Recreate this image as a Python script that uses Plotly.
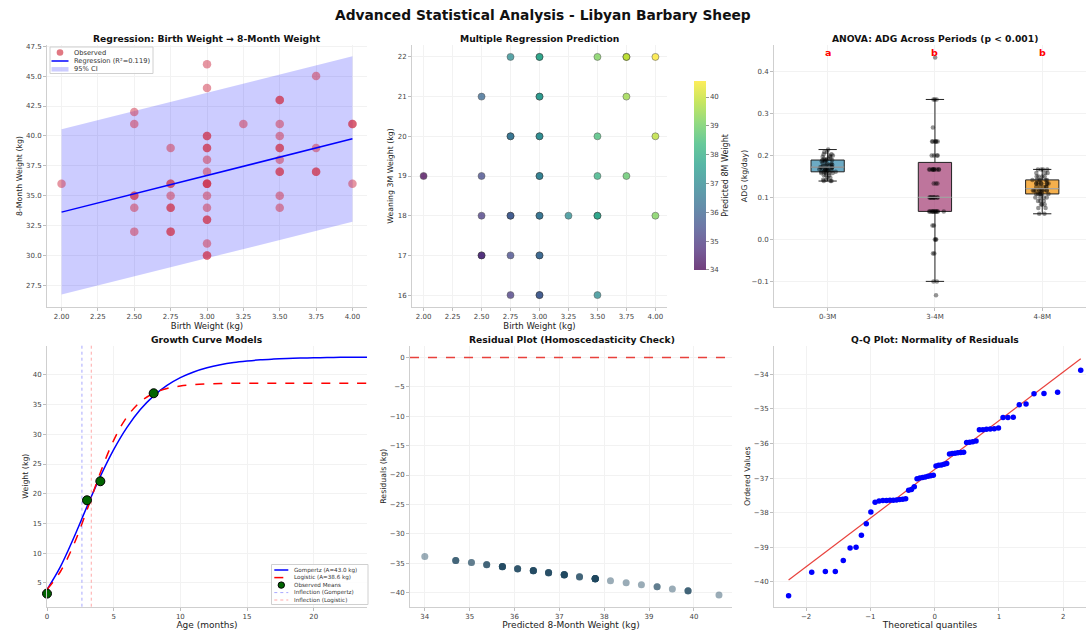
import numpy as np
import plotly.graph_objects as go

# ---------------- data ----------------
# Panel 1: birth weight vs 8-month weight
bw_obs = [2.00,
          2.50, 2.50, 2.50, 2.50, 2.50, 2.50,
          2.75, 2.75, 2.75, 2.75, 2.75, 2.75, 2.75, 2.75,
          3.00, 3.00, 3.00, 3.00, 3.00, 3.00, 3.00, 3.00, 3.00, 3.00, 3.00, 3.00, 3.00, 3.00, 3.00, 3.00, 3.00, 3.00,
          3.25,
          3.50, 3.50, 3.50, 3.50, 3.50, 3.50, 3.50, 3.50, 3.50, 3.50, 3.50,
          3.75, 3.75, 3.75, 3.75,
          4.00, 4.00, 4.00]
w8_obs = [36,
          42, 41, 35, 35, 34, 32,
          39, 36, 36, 35, 34, 34, 32, 32,
          46, 44, 40, 40, 39, 39, 38, 37, 36, 36, 36, 35, 34, 33, 33, 31, 30, 30,
          41,
          43, 43, 41, 40, 39, 39, 38, 37, 37, 35, 34,
          45, 39, 37, 37,
          41, 41, 36]
reg_x = [2.0, 4.0]
reg_y = [33.63, 39.76]
ci_lower = [26.75, 32.82]
ci_upper = [40.55, 46.65]
r_squared = 0.119

# Panel 2: multiple regression prediction
mr_bw = [2.75, 3.00, 3.00, 3.50, 3.75, 3.75, 4.00,
         2.50, 3.00, 3.00, 3.75,
         2.75, 2.75, 3.00, 3.00, 3.50, 4.00,
         2.00, 2.50, 3.00, 3.00, 3.50, 3.75,
         2.50, 2.75, 2.75, 3.00, 3.00, 3.25, 3.50, 3.50, 4.00,
         2.50, 2.50, 2.75, 3.00, 3.00,
         2.75, 3.00, 3.00, 3.50]
mr_w3 = [22, 22, 22, 22, 22, 22, 22,
         21, 21, 21, 21,
         20, 20, 20, 20, 20, 20,
         19, 19, 19, 19, 19, 19,
         18, 18, 18, 18, 18, 18, 18, 18, 18,
         17, 17, 17, 17, 17,
         16, 16, 16, 16]
mr_pred = [37.11, 37.80, 37.80, 39.18, 39.87, 39.87, 40.56,
           36.07, 37.45, 37.45, 39.52,
           36.42, 36.42, 37.11, 37.11, 38.49, 39.87,
           34.00, 35.38, 36.76, 36.76, 38.14, 38.83,
           35.04, 35.73, 35.73, 36.42, 36.42, 37.11, 37.80, 37.80, 39.18,
           34.69, 34.69, 35.38, 36.07, 36.07,
           35.04, 35.73, 35.73, 37.11]

# Panel 3: ADG per period
periods = ["0-3M", "3-4M", "4-8M"]
adg_0_3 = [0.139, 0.139, 0.139, 0.142, 0.142, 0.147, 0.147, 0.153, 0.153, 0.153,
           0.158, 0.158, 0.158, 0.158, 0.161, 0.161, 0.161, 0.161, 0.164, 0.164,
           0.164, 0.164, 0.167, 0.167, 0.167, 0.167, 0.169, 0.169, 0.169, 0.172,
           0.172, 0.172, 0.172, 0.175, 0.175, 0.175, 0.178, 0.178, 0.178, 0.181,
           0.181, 0.181, 0.186, 0.186, 0.189, 0.189, 0.189, 0.189, 0.192, 0.192,
           0.192, 0.197, 0.197, 0.200, 0.200, 0.203, 0.203, 0.208, 0.208, 0.214]
adg_3_4 = [-0.1333, -0.1, -0.1, -0.0333, -0.0333, 0.0, 0.0, 0.0, 0.0333, 0.0333,
           0.0667, 0.0667, 0.0667, 0.0667, 0.0667, 0.0667, 0.0667, 0.0667, 0.0667, 0.0667,
           0.0667, 0.0667, 0.1, 0.1, 0.1, 0.1, 0.1, 0.1, 0.1, 0.1,
           0.1, 0.1, 0.1333, 0.1333, 0.1333, 0.1667, 0.1667, 0.1667, 0.1667, 0.1667,
           0.1667, 0.1667, 0.1667, 0.1667, 0.1667, 0.2, 0.2, 0.2, 0.2, 0.2333,
           0.2333, 0.2333, 0.2333, 0.2333, 0.2333, 0.2667, 0.3333, 0.3333, 0.3333, 0.4333]
adg_4_8 = [0.061, 0.061, 0.075, 0.075, 0.0833, 0.0833, 0.0833, 0.0917, 0.0917, 0.0917,
           0.1, 0.1, 0.1, 0.1, 0.1083, 0.1083, 0.1083, 0.1083, 0.1083, 0.1083,
           0.1167, 0.1167, 0.1167, 0.1167, 0.1167, 0.1167, 0.1167, 0.1167, 0.1167, 0.1167,
           0.125, 0.125, 0.125, 0.125, 0.125, 0.1333, 0.1333, 0.1333, 0.1333, 0.1333,
           0.1333, 0.1333, 0.1333, 0.1417, 0.1417, 0.1417, 0.1417, 0.1417, 0.1417, 0.15,
           0.15, 0.15, 0.15, 0.1583, 0.1583, 0.1583, 0.1667, 0.1667, 0.1667, 0.1667]
sig_letters = ["a", "b", "b"]

# Panel 4: growth curves (values read at monthly steps)
age_months = [0, 1, 2, 3, 4, 5, 6, 7, 8, 9, 10, 11, 12, 13, 14, 15, 16, 17, 18, 19, 20, 21, 22, 23, 24]
gompertz_w = [3.88, 7.70, 12.56, 17.83, 22.91, 27.41, 31.16, 34.15, 36.46, 38.21,
              39.52, 40.48, 41.18, 41.69, 42.06, 42.32, 42.52, 42.65, 42.75, 42.82,
              42.87, 42.91, 42.94, 42.96, 42.97]
logistic_w = [3.90, 6.88, 11.40, 17.26, 23.54, 28.98, 32.94, 35.45, 36.90, 37.70,
              38.13, 38.35, 38.47, 38.54, 38.57, 38.59, 38.60, 38.60, 38.60, 38.60,
              38.60, 38.60, 38.60, 38.60, 38.60]
gompertz_A = 43.0
logistic_A = 38.6
obs_age = [0, 3, 4, 8]
obs_mean = [3.2, 18.9, 22.1, 36.9]
infl_gompertz = 2.62
infl_logistic = 3.32

# Panel 5 / 6: residuals
resid_vals = [-40.40, -39.72, -39.70, -39.70, -39.38, -39.02, -39.00, -38.65, -38.32, -37.98,
              -37.70, -37.66, -37.65, -37.65, -37.64, -37.64, -37.63, -37.62, -37.61, -37.60,
              -37.35, -37.33, -37.25, -37.02, -37.00, -36.98, -36.97, -36.95, -36.93, -36.92,
              -36.65, -36.63, -36.62, -36.60, -36.58, -36.30, -36.29, -36.28, -36.27, -36.26,
              -36.25, -35.97, -35.96, -35.95, -35.93, -35.60, -35.60, -35.59, -35.58, -35.57,
              -35.55, -35.25, -35.25, -35.24, -34.88, -34.86, -34.56, -34.55, -34.52, -33.88]
resid_pred = [40.56, 39.87, 39.87, 39.87, 39.52, 39.18, 39.18, 38.83, 38.49, 38.14,
              37.80, 37.80, 37.80, 37.80, 37.80, 37.80, 37.80, 37.80, 37.80, 37.80,
              37.45, 37.45, 37.45, 37.11, 37.11, 37.11, 37.11, 37.11, 37.11, 37.11,
              36.76, 36.76, 36.76, 36.76, 36.76, 36.42, 36.42, 36.42, 36.42, 36.42,
              36.42, 36.07, 36.07, 36.07, 36.07, 35.73, 35.73, 35.73, 35.73, 35.73,
              35.73, 35.38, 35.38, 35.38, 35.04, 35.04, 34.69, 34.69, 34.69, 34.00]
qq_theoretical = [-2.273, -1.913, -1.701, -1.546, -1.422, -1.316, -1.223, -1.140, -1.064, -0.993,
                  -0.927, -0.865, -0.806, -0.750, -0.696, -0.644, -0.593, -0.545, -0.497, -0.451,
                  -0.405, -0.361, -0.317, -0.274, -0.231, -0.188, -0.146, -0.104, -0.062, -0.021,
                  0.021, 0.062, 0.104, 0.146, 0.188, 0.231, 0.274, 0.317, 0.361, 0.405,
                  0.451, 0.497, 0.545, 0.593, 0.644, 0.696, 0.750, 0.806, 0.865, 0.927,
                  0.993, 1.064, 1.140, 1.223, 1.316, 1.422, 1.546, 1.701, 1.913, 2.273]
qq_line_x = [-2.273, 2.273]
qq_line_y = [-39.95, -33.55]
resid_zero = 0

# ---------------- styling ----------------
W, H = 1086, 630
FONT = "DejaVu Sans"


def px_x(p):
    return p / W


def px_y(p):
    return 1 - p / H


col1 = [px_x(47), px_x(367)]
col2a = [px_x(412), px_x(667)]
col2b = [px_x(410), px_x(732)]
col3 = [px_x(774), 1.0]
row1 = [px_y(307), px_y(45)]
row2 = [px_y(606.7), px_y(345.7)]


def ax(domain, anchor, title=None, tsize=8, **kw):
    d = dict(domain=domain, anchor=anchor, showline=True, linecolor="#cfcfcf", linewidth=1,
             ticks="outside", ticklen=3, tickcolor="#bdbdbd", showgrid=True, gridcolor="#f2f2f2",
             zeroline=False, mirror=False, automargin=False,
             tickfont=dict(family=FONT, size=7, color="#444"))
    if title:
        d["title"] = dict(text=title, font=dict(family=FONT, size=tsize, color="#222"), standoff=2)
    d.update(kw)
    return d


fig = go.Figure()

# ---- Panel 1 ----
fig.add_trace(go.Scatter(x=reg_x, y=ci_lower, mode="lines", line=dict(width=0),
                         showlegend=False, hoverinfo="skip", xaxis="x", yaxis="y"))
fig.add_trace(go.Scatter(x=reg_x, y=ci_upper, mode="lines", line=dict(width=0), fill="tonexty",
                         fillcolor="rgba(0,0,255,0.2)", name="95% CI", showlegend=False,
                         xaxis="x", yaxis="y"))
obs_color = "rgba(205,45,70,0.5)"
fig.add_trace(go.Scatter(x=bw_obs, y=w8_obs, mode="markers", name="Observed", showlegend=False,
                         marker=dict(size=8.5, color=obs_color), xaxis="x", yaxis="y"))
fig.add_trace(go.Scatter(x=reg_x, y=reg_y, mode="lines", name=f"Regression (R²={r_squared:.3f})",
                         showlegend=False, line=dict(color="blue", width=1.5), xaxis="x", yaxis="y"))

# ---- Panel 2 ----
viridis = ["#440154", "#482878", "#3e4989", "#31688e", "#26828e", "#1f9e89",
           "#35b779", "#6ece58", "#b5de2b", "#fde725"]


def fade(h, a=0.75):
    r, g, b = int(h[1:3], 16), int(h[3:5], 16), int(h[5:7], 16)
    return "rgb(%d,%d,%d)" % (r * a + 255 * (1 - a), g * a + 255 * (1 - a), b * a + 255 * (1 - a))


faded = [[i / (len(viridis) - 1), fade(c)] for i, c in enumerate(viridis)]
cmin, cmax = min(mr_pred), max(mr_pred)
fig.add_trace(go.Scatter(x=mr_bw, y=mr_w3, mode="markers", showlegend=False, xaxis="x2", yaxis="y2",
                         marker=dict(size=7, color=mr_pred, colorscale="Viridis", cmin=cmin, cmax=cmax,
                                     opacity=0.75, line=dict(width=0.7, color="rgba(40,40,40,0.8)"),
                                     showscale=False)))
fig.add_trace(go.Scatter(x=[mr_bw[0]], y=[mr_w3[0]], mode="markers", showlegend=False, hoverinfo="skip",
                         xaxis="x2", yaxis="y2",
                         marker=dict(size=1, color=[mr_pred[0]], colorscale=faded, cmin=cmin, cmax=cmax,
                                     opacity=0, showscale=True,
                                     colorbar=dict(x=px_x(684), xanchor="left", y=px_y(175.4), yanchor="middle",
                                                   len=209, lenmode="pixels", thickness=11.5,
                                                   thicknessmode="pixels", outlinewidth=0,
                                                   ticks="outside", ticklen=3, tickcolor="#999",
                                                   tickvals=[34, 35, 36, 37, 38, 39, 40],
                                                   tickfont=dict(family=FONT, size=7, color="#444"),
                                                   title=dict(text="Predicted 8M Weight", side="right",
                                                              font=dict(family=FONT, size=8, color="#222"))))))

# ---- Panel 3 ----
box_fill = ["rgba(46,134,171,0.7)", "rgba(162,59,114,0.7)", "rgba(241,143,1,0.7)"]
adg_groups = [adg_0_3, adg_3_4, adg_4_8]
for i, (p, vals) in enumerate(zip(periods, adg_groups)):
    fig.add_trace(go.Box(x=[p] * len(vals), y=vals, name=p, showlegend=False, xaxis="x3", yaxis="y3",
                         width=0.31, fillcolor=box_fill[i], line=dict(color="#222", width=1),
                         boxpoints="all", jitter=0.6, pointpos=0, whiskerwidth=0.55,
                         marker=dict(color="rgba(0,0,0,0.42)", size=4.5)))

# ---- Panel 4 ----
gomp_name = f"Gompertz (A={gompertz_A:.1f} kg)"
logi_name = f"Logistic (A={logistic_A:.1f} kg)"
fig.add_trace(go.Scatter(x=age_months, y=gompertz_w, mode="lines", line=dict(color="blue", width=1.5, shape="spline"),
                         name=gomp_name, showlegend=False, xaxis="x4", yaxis="y4"))
fig.add_trace(go.Scatter(x=age_months, y=logistic_w, mode="lines",
                         line=dict(color="red", width=1.5, dash="dash", shape="spline"),
                         name=logi_name, showlegend=False, xaxis="x4", yaxis="y4"))
fig.add_trace(go.Scatter(x=obs_age, y=obs_mean, mode="markers", name="Observed Means", showlegend=False,
                         marker=dict(size=9, color="#006400", line=dict(color="black", width=1)),
                         xaxis="x4", yaxis="y4", cliponaxis=False))

# ---- Panel 5 ----
fig.add_trace(go.Scatter(x=resid_pred, y=resid_vals, mode="markers", showlegend=False, xaxis="x5", yaxis="y5",
                         marker=dict(size=7, color="rgba(30,70,95,0.45)")))

# ---- Panel 6 ----
fig.add_trace(go.Scatter(x=qq_line_x, y=qq_line_y, mode="lines", showlegend=False, xaxis="x6", yaxis="y6",
                         line=dict(color="#e8413c", width=1.2)))
fig.add_trace(go.Scatter(x=qq_theoretical, y=resid_vals, mode="markers", showlegend=False, xaxis="x6", yaxis="y6",
                         marker=dict(size=5.5, color="blue")))

# ---------------- shapes ----------------
shapes = [
    dict(type="line", xref="x4", yref="y4 domain", x0=infl_gompertz, x1=infl_gompertz, y0=0, y1=1,
         line=dict(color="rgba(0,0,255,0.35)", width=1, dash="dot")),
    dict(type="line", xref="x4", yref="y4 domain", x0=infl_logistic, x1=infl_logistic, y0=0, y1=1,
         line=dict(color="rgba(255,0,0,0.35)", width=1, dash="dot")),
    dict(type="line", xref="x5 domain", yref="y5", x0=0, x1=1, y0=resid_zero, y1=resid_zero,
         line=dict(color="#e8413c", width=1.5, dash="dash")),
]
for i, vals in enumerate(adg_groups):
    m = float(np.median(vals))
    shapes.append(dict(type="line", xref="x3", yref="y3", x0=i - 0.155, x1=i + 0.155, y0=m, y1=m,
                       line=dict(color="rgba(255,255,255,0.55)", width=1.2)))

ann = []


# ---------------- hand-drawn legends (compact like matplotlib) ----------------
def legend_box(x0, y0, x1, y1):
    shapes.append(dict(type="rect", xref="paper", yref="paper", x0=px_x(x0), x1=px_x(x1),
                       y0=px_y(y1), y1=px_y(y0), fillcolor="rgba(255,255,255,0.85)",
                       line=dict(color="#d0d0d0", width=1), layer="above"))


def leg_line(x0, x1, y, color, width=1.5, dash="solid"):
    shapes.append(dict(type="line", xref="paper", yref="paper", x0=px_x(x0), x1=px_x(x1),
                       y0=px_y(y), y1=px_y(y), line=dict(color=color, width=width, dash=dash), layer="above"))


def leg_circle(cx, cy, r, fill, edge=None):
    shapes.append(dict(type="circle", xref="paper", yref="paper", x0=px_x(cx - r), x1=px_x(cx + r),
                       y0=px_y(cy + r), y1=px_y(cy - r), fillcolor=fill,
                       line=dict(color=edge or fill, width=1 if edge else 0), layer="above"))


def leg_rect(x0, x1, cy, h, fill):
    shapes.append(dict(type="rect", xref="paper", yref="paper", x0=px_x(x0), x1=px_x(x1),
                       y0=px_y(cy + h / 2), y1=px_y(cy - h / 2), fillcolor=fill,
                       line=dict(width=0), layer="above"))


def leg_text(x, y, text, size):
    ann.append(dict(text=text, x=px_x(x), y=px_y(y), xref="paper", yref="paper", showarrow=False,
                    xanchor="left", yanchor="middle", font=dict(family=FONT, size=size, color="#333")))


# panel 1 legend
legend_box(50, 47, 153, 73.5)
leg_circle(60, 52.5, 3.3, "rgba(225,120,130,1)")
leg_line(51.5, 68.5, 61, "blue")
leg_rect(51.5, 68.5, 69.3, 4.5, "rgba(0,0,255,0.2)")
leg_text(71.5, 52.5, "Observed", 6.7)
leg_text(71.5, 61, f"Regression (R²={r_squared:.3f})", 6.7)
leg_text(71.5, 69.3, "95% CI", 6.7)

# panel 4 legend
legend_box(271.5, 564.5, 368, 604.5)
leg_line(274.3, 288.3, 570, "blue", 1.5)
leg_line(274.3, 288.3, 577.6, "red", 1.5, "dash")
leg_circle(281.3, 585.1, 3.2, "#006400", "black")
leg_line(274.3, 288.3, 592.6, "rgba(0,0,255,0.35)", 1, "dot")
leg_line(274.3, 288.3, 600, "rgba(255,0,0,0.35)", 1, "dot")
leg_text(291.5, 570, gomp_name, 5.6)
leg_text(291.5, 577.6, logi_name, 5.6)
leg_text(291.5, 585.1, "Observed Means", 5.6)
leg_text(291.5, 592.6, "Inflection (Gompertz)", 5.6)
leg_text(291.5, 600, "Inflection (Logistic)", 5.6)

# ---------------- titles / annotations ----------------
ann.append(dict(text="<b>Advanced Statistical Analysis - Libyan Barbary Sheep</b>", x=0.5, y=px_y(15),
                xref="paper", yref="paper", showarrow=False, xanchor="center", yanchor="middle",
                font=dict(family=FONT, size=13.8, color="#111")))
titles = [("Regression: Birth Weight → 8-Month Weight", 207, 38),
          ("Multiple Regression Prediction", 539, 38),
          ("ANOVA: ADG Across Periods (p < 0.001)", 935, 38),
          ("Growth Curve Models", 207, 339),
          ("Residual Plot (Homoscedasticity Check)", 572, 339),
          ("Q-Q Plot: Normality of Residuals", 935, 339)]
for t, x, y in titles:
    ann.append(dict(text=f"<b>{t}</b>", x=px_x(x), y=px_y(y), xref="paper", yref="paper", showarrow=False,
                    xanchor="center", yanchor="middle", font=dict(family=FONT, size=9.2, color="#111")))
for i, letter in enumerate(sig_letters):
    ann.append(dict(text=f"<b>{letter}</b>", x=i, y=0.445, xref="x3", yref="y3", showarrow=False,
                    xanchor="center", yanchor="middle", font=dict(family=FONT, size=9.5, color="red")))

fig.update_layout(
    width=W, height=H, margin=dict(l=0, r=0, t=0, b=0),
    paper_bgcolor="white", plot_bgcolor="white",
    font=dict(family=FONT, size=7, color="#333"),
    boxmode="overlay", showlegend=False,
    shapes=shapes, annotations=ann,
    xaxis=ax(col1, "y", "Birth Weight (kg)", tsize=8.5, range=[1.9, 4.1],
             tickvals=[2.0, 2.25, 2.5, 2.75, 3.0, 3.25, 3.5, 3.75, 4.0], tickformat=".2f"),
    yaxis=ax(row1, "x", "8-Month Weight (kg)", tsize=7.8, range=[25.7, 47.6], dtick=2.5, tick0=27.5, tickformat=".1f"),
    xaxis2=ax(col2a, "y2", "Birth Weight (kg)", tsize=8.5, range=[1.9, 4.1],
              tickvals=[2.0, 2.25, 2.5, 2.75, 3.0, 3.25, 3.5, 3.75, 4.0], tickformat=".2f"),
    yaxis2=ax(row1, "x2", "Weaning 3M Weight (kg)", tsize=7.8, range=[15.7, 22.3], dtick=1),
    xaxis3=ax(col3, "y3", None, type="category", categoryorder="array", categoryarray=periods,
              range=[-0.5, 2.408]),
    yaxis3=ax(row1, "x3", "ADG (kg/day)", tsize=7.8, range=[-0.161, 0.463],
              tickvals=[-0.1, 0.0, 0.1, 0.2, 0.3, 0.4], tickformat=".1f"),
    xaxis4=ax(col1, "y4", "Age (months)", tsize=9, range=[0, 24], dtick=5),
    yaxis4=ax(row2, "x4", "Weight (kg)", tsize=7.8, range=[1.0, 44.9], tickvals=[5, 10, 15, 20, 25, 30, 35, 40]),
    xaxis5=ax(col2b, "y5", "Predicted 8-Month Weight (kg)", tsize=9, range=[33.67, 40.85], dtick=1),
    yaxis5=ax(row2, "x5", "Residuals (kg)", tsize=7.8, range=[-42.4, 2.0], dtick=5),
    xaxis6=ax(col3, "y6", "Theoretical quantiles", tsize=9, range=[-2.5, 2.355], dtick=1),
    yaxis6=ax(row2, "x6", "Ordered Values", tsize=7.8, range=[-40.72, -33.17], dtick=1),
)

fig.write_html("out.html", config={"displayModeBar": False},
               post_script="document.body.style.margin='0px';document.body.style.overflow='hidden';")
